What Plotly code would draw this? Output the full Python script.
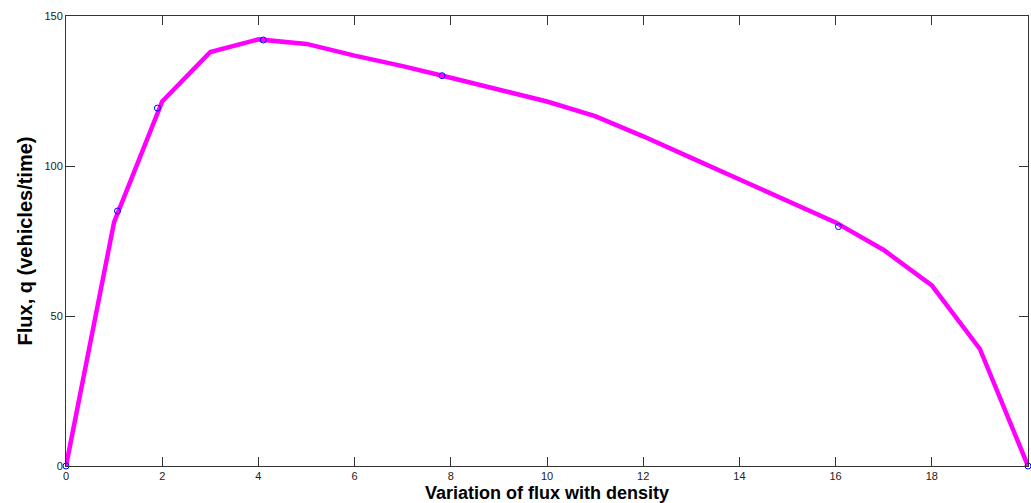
import plotly.graph_objects as go

density = list(range(0, 21))
flux = [0, 81.3, 121.5, 138, 142.2, 140.7, 136.8, 133.3, 129.4, 125.5, 121.5,
        116.6, 109.9, 102.7, 95.4, 88.5, 81.2, 72, 60.2, 39, 0]

marker_x = [0, 1.07, 1.9, 4.1, 7.82, 16.06, 20]
marker_y = [0, 85, 119.3, 142, 130.1, 79.8, 0]

x_ticks = list(range(0, 21, 2))
y_ticks = [0, 50, 100, 150]

fig = go.Figure()
fig.add_trace(go.Scatter(x=density, y=flux, mode="lines",
                         line=dict(color="#ff00ff", width=4.5),
                         showlegend=False, hoverinfo="skip"))
fig.add_trace(go.Scatter(x=marker_x, y=marker_y, mode="markers",
                         marker=dict(symbol="circle-open", size=6,
                                     color="#0000ff", line=dict(width=1)),
                         showlegend=False, cliponaxis=False))

axis_common = dict(showgrid=False, zeroline=False, showline=True,
                   linecolor="#333333", linewidth=1, mirror="ticks",
                   ticks="inside", ticklen=9, tickwidth=1, tickcolor="#333333",
                   tickfont=dict(family="Liberation Sans, Arial", size=11,
                                 color="#222222"))

fig.update_xaxes(range=[0, 20], tickvals=x_ticks,
                 ticktext=[str(v) for v in x_ticks],
                 title=dict(text="<b>Variation of flux with density</b>",
                            font=dict(family="Liberation Sans, Arial", size=18,
                                      color="#000000"),
                            standoff=6),
                 **axis_common)
fig.update_yaxes(range=[0, 150], tickvals=y_ticks,
                 ticktext=[str(v) for v in y_ticks],
                 title=dict(text="<b>Flux, q (vehicles/time)</b>",
                            font=dict(family="Liberation Sans, Arial", size=20,
                                      color="#000000"),
                            standoff=6),
                 **axis_common)

fig.update_layout(width=1031, height=503,
                  margin=dict(l=66, r=3, t=16, b=37, autoexpand=False),
                  plot_bgcolor="white", paper_bgcolor="white")

fig.write_html("out.html", config={"displayModeBar": False},
               post_script="document.body.style.margin='0';"
                           "document.body.style.overflow='hidden';")
